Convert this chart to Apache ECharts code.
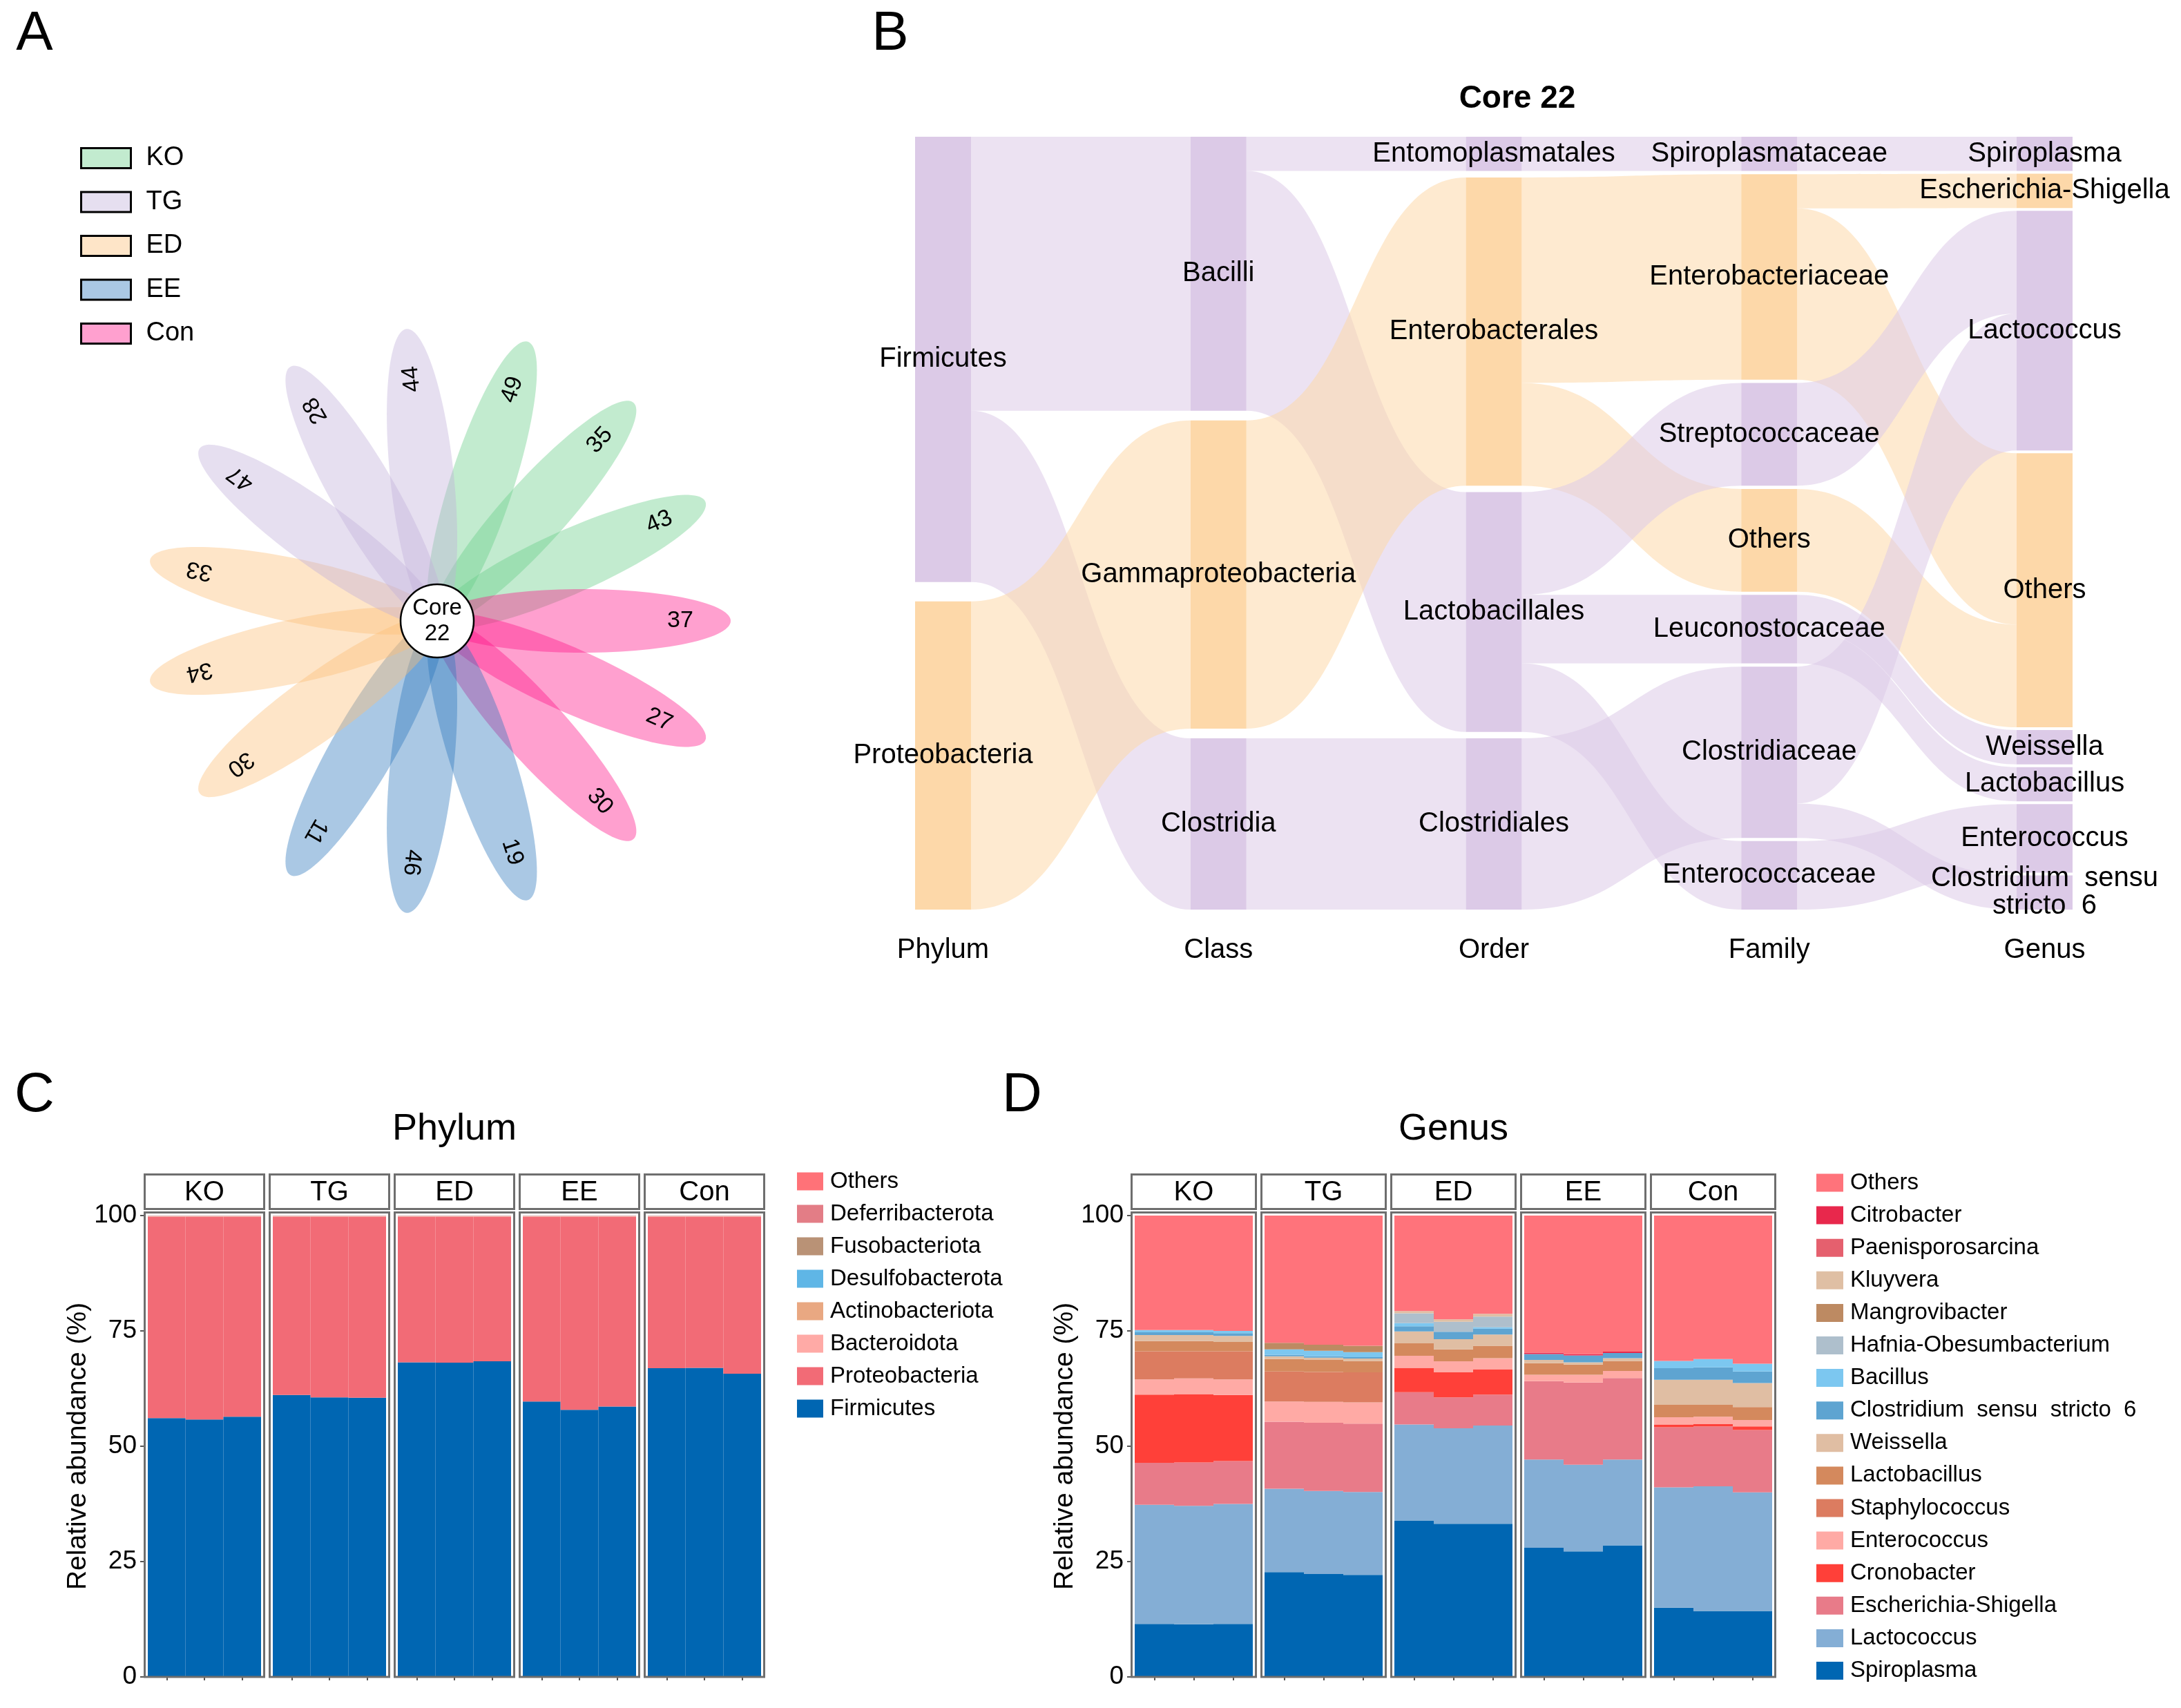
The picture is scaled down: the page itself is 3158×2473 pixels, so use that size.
<!DOCTYPE html>
<html>
<head>
<meta charset="utf-8">
<script src="https://cdn.jsdelivr.net/npm/echarts@6/dist/echarts.min.js"></script>
<style>html,body{margin:0;padding:0;background:#fff;}#main{width:3158px;height:2473px;}</style>
</head>
<body>
<div id="main"></div>
<script>
// ---------------- DATA ----------------
// Panel A: flower (petals listed clockwise, starting with KO "49")
const coreCount = 22;
const flowerOrder = ['KO', 'Con', 'EE', 'ED', 'TG'];
const legendGroups = ['KO', 'TG', 'ED', 'EE', 'Con'];
const petalKO = [49, 35, 43];
const petalCon = [37, 27, 30];
const petalEE = [19, 46, 11];
const petalED = [30, 34, 33];
const petalTG = [47, 28, 44];

// Panel B: sankey of the 22 core taxa
const phylumNodes = ['Firmicutes', 'Proteobacteria'];
const classNodes = ['Bacilli', 'Gammaproteobacteria', 'Clostridia'];
const orderNodes = ['Entomoplasmatales', 'Enterobacterales', 'Lactobacillales', 'Clostridiales'];
const familyNodes = ['Spiroplasmataceae', 'Enterobacteriaceae', 'Streptococcaceae', 'Others (family)', 'Leuconostocaceae', 'Clostridiaceae', 'Enterococcaceae'];
const genusNodes = ['Spiroplasma', 'Escherichia-Shigella', 'Lactococcus', 'Others (genus)', 'Weissella', 'Lactobacillus', 'Enterococcus', 'Clostridium  sensu  stricto  6'];
const proteoLineage = ['Proteobacteria', 'Gammaproteobacteria', 'Enterobacterales', 'Enterobacteriaceae', 'Others (family)', 'Escherichia-Shigella', 'Others (genus)'];
const linkSource = ['Firmicutes', 'Firmicutes', 'Proteobacteria',
  'Bacilli', 'Bacilli', 'Gammaproteobacteria', 'Clostridia',
  'Entomoplasmatales', 'Enterobacterales', 'Enterobacterales', 'Lactobacillales', 'Lactobacillales', 'Lactobacillales', 'Clostridiales',
  'Spiroplasmataceae', 'Enterobacteriaceae', 'Enterobacteriaceae', 'Streptococcaceae', 'Others (family)', 'Leuconostocaceae', 'Leuconostocaceae', 'Clostridiaceae', 'Clostridiaceae', 'Enterococcaceae'];
const linkTarget = ['Bacilli', 'Clostridia', 'Gammaproteobacteria',
  'Entomoplasmatales', 'Lactobacillales', 'Enterobacterales', 'Clostridiales',
  'Spiroplasmataceae', 'Enterobacteriaceae', 'Others (family)', 'Streptococcaceae', 'Leuconostocaceae', 'Enterococcaceae', 'Clostridiaceae',
  'Spiroplasma', 'Escherichia-Shigella', 'Others (genus)', 'Lactococcus', 'Others (genus)', 'Weissella', 'Lactobacillus', 'Lactococcus', 'Clostridium  sensu  stricto  6', 'Enterococcus'];
const linkValue = [8, 5, 9,
  1, 7, 9, 5,
  1, 6, 3, 3, 2, 2, 5,
  1, 1, 5, 3, 3, 1, 1, 4, 1, 2];
const rankLabels = ['Phylum', 'Class', 'Order', 'Family', 'Genus'];

// Panels C/D: 5 groups x 3 samples (KO1-3, TG1-3, ED1-3, EE1-3, Con1-3)
const groupNames = ['KO', 'TG', 'ED', 'EE', 'Con'];
const sampleIds = ['S1', 'S2', 'S3'];

// Phylum relative abundance (%)
const phyFirmicutes      = [56.1, 55.8, 56.4, 61.1, 60.6, 60.5, 68.2, 68.1, 68.4, 59.7, 57.9, 58.6, 66.9, 67.0, 65.7];
const phyProteobacteria  = [43.6, 43.9, 43.3, 38.6, 39.1, 39.2, 31.5, 31.6, 31.3, 40.0, 41.8, 41.1, 32.8, 32.7, 34.0];
const phyBacteroidota    = [0.10, 0.10, 0.10, 0.10, 0.10, 0.10, 0.10, 0.10, 0.10, 0.10, 0.10, 0.10, 0.10, 0.10, 0.10];
const phyActinobacteriota= [0.05, 0.05, 0.05, 0.05, 0.05, 0.05, 0.05, 0.05, 0.05, 0.05, 0.05, 0.05, 0.05, 0.05, 0.05];
const phyDesulfobacterota= [0.05, 0.05, 0.05, 0.05, 0.05, 0.05, 0.05, 0.05, 0.05, 0.05, 0.05, 0.05, 0.05, 0.05, 0.05];
const phyFusobacteriota  = [0.02, 0.02, 0.02, 0.02, 0.02, 0.02, 0.02, 0.02, 0.02, 0.02, 0.02, 0.02, 0.02, 0.02, 0.02];
const phyDeferribacterota= [0.03, 0.03, 0.03, 0.03, 0.03, 0.03, 0.03, 0.03, 0.03, 0.03, 0.03, 0.03, 0.03, 0.03, 0.03];
const phyOthers          = [0.05, 0.05, 0.05, 0.05, 0.05, 0.05, 0.05, 0.05, 0.05, 0.05, 0.05, 0.05, 0.05, 0.05, 0.05];
const phylumNames = ['Firmicutes', 'Proteobacteria', 'Bacteroidota', 'Actinobacteriota', 'Desulfobacterota', 'Fusobacteriota', 'Deferribacterota', 'Others'];

// Genus relative abundance (%)
const genSpiroplasma   = [11.5, 11.4, 11.5, 22.7, 22.3, 22.1, 33.9, 33.2, 33.2, 28.0, 27.2, 28.5, 15.0, 14.3, 14.3];
const genLactococcus   = [25.8, 25.7, 26.0, 18.1, 18.0, 18.0, 20.8, 20.7, 21.3, 19.1, 18.8, 18.6, 26.1, 27.0, 25.7];
const genEscherichia   = [9.1, 9.4, 9.3, 14.5, 14.8, 14.8, 7.0, 6.7, 6.7, 17.0, 17.8, 17.7, 13.0, 13.0, 13.5];
const genCronobacter   = [14.8, 14.8, 14.3, 0, 0, 0, 5.3, 5.4, 5.5, 0, 0, 0, 0.6, 0.5, 0.8];
const genEnterococcus  = [3.3, 3.4, 3.4, 4.4, 4.5, 4.6, 2.6, 2.4, 2.4, 1.4, 1.7, 1.5, 1.6, 1.6, 1.4];
const genStaphylococcus= [6.1, 5.9, 6.1, 6.5, 6.5, 6.5, 0, 0, 0, 0, 0, 0, 0, 0, 0];
const genLactobacillus = [2.2, 2.2, 2.0, 2.7, 2.6, 2.5, 2.7, 2.6, 2.7, 2.5, 2.2, 2.2, 2.7, 2.6, 2.8];
const genWeissella     = [1.3, 1.3, 1.3, 0.6, 0.5, 0.5, 2.6, 2.2, 2.4, 0.7, 0.5, 0.6, 5.4, 5.4, 5.2];
const genClostridium   = [0.6, 0.6, 0.6, 0.3, 0.3, 0.3, 1.1, 1.6, 1.3, 1.3, 1.5, 1.1, 2.5, 2.7, 2.5];
const genBacillus      = [0.5, 0.5, 0.5, 1.2, 1.2, 1.1, 0.7, 0, 0.3, 0, 0, 0, 1.6, 1.8, 1.7];
const genHafnia        = [0, 0, 0, 0, 0, 0, 2.1, 2.2, 2.3, 0, 0, 0, 0, 0, 0];
const genMangrovibacter= [0, 0, 0, 1.4, 1.3, 1.4, 0, 0, 0, 0, 0, 0, 0, 0, 0];
const genKluyvera      = [0, 0, 0, 0, 0, 0, 0.5, 0.5, 0.6, 0, 0, 0, 0, 0, 0];
const genPaenisporosarcina = [0, 0, 0, 0, 0, 0, 0, 0, 0, 0, 0, 0, 0, 0, 0];
const genCitrobacter   = [0, 0, 0, 0, 0, 0, 0, 0, 0, 0.3, 0.3, 0.3, 0, 0, 0];
const genOthers        = [24.8, 24.8, 25.0, 27.6, 28.0, 28.2, 20.7, 22.5, 21.3, 29.7, 30.0, 29.5, 31.5, 31.1, 32.1];
const genusNames = ['Spiroplasma', 'Lactococcus', 'Escherichia-Shigella', 'Cronobacter', 'Enterococcus', 'Staphylococcus', 'Lactobacillus', 'Weissella', 'Clostridium  sensu  stricto  6', 'Bacillus', 'Hafnia-Obesumbacterium', 'Mangrovibacter', 'Kluyvera', 'Paenisporosarcina', 'Citrobacter', 'Others'];

// ---------------- STYLE / LAYOUT ----------------
const W = 3158, H = 2473;
const FONT = '"Liberation Sans", Arial, Helvetica, sans-serif';
const petalCounts = { KO: petalKO, Con: petalCon, EE: petalEE, ED: petalED, TG: petalTG };
const petalFill = { KO: 'rgba(102,204,136,0.4)', TG: 'rgba(192,175,217,0.4)', ED: 'rgba(252,190,117,0.4)', EE: 'rgba(42,117,187,0.4)', Con: 'rgba(255,17,135,0.4)' };
const petalLegend = { KO: '#c2ebcf', TG: '#e6dff0', ED: '#fee5c8', EE: '#aac8e4', Con: '#ffa0cf' };
const phylumValues = [phyFirmicutes, phyProteobacteria, phyBacteroidota, phyActinobacteriota, phyDesulfobacterota, phyFusobacteriota, phyDeferribacterota, phyOthers];
const phylumColors = ['#0066b2', '#f26b76', '#ffaaa6', '#e9a882', '#5fb6e6', '#b99276', '#e37d86', '#ff7278'];
const genusValues = [genSpiroplasma, genLactococcus, genEscherichia, genCronobacter, genEnterococcus, genStaphylococcus, genLactobacillus, genWeissella, genClostridium, genBacillus, genHafnia, genMangrovibacter, genKluyvera, genPaenisporosarcina, genCitrobacter, genOthers];
const genusColors = ['#0066b2', '#84aed5', '#e87b89', '#ff4039', '#ffaaa5', '#dc7c60', '#d4895d', '#e0bea3', '#5ea4d1', '#7cc7f0', '#aebfcc', '#bd8a62', '#dfbfa4', '#e5606e', '#e8284c', '#ff737b'];

const grids = [], xAxes = [], yAxes = [], series = [], graphics = [];

// ---- Panel A ----
const FC = { cx: 633, cy: 899, R: 440 };
const PET_START = 18, PET_STEP = 24;
const PET_C = 210 / FC.R, PET_A = 215 / FC.R, PET_B = 46 / FC.R, LAB_R = 352 / FC.R;
grids.push({ left: FC.cx - FC.R, top: FC.cy - FC.R, width: 2 * FC.R, height: 2 * FC.R, show: false });
xAxes.push({ type: 'value', gridIndex: 0, min: -1, max: 1, show: false });
yAxes.push({ type: 'value', gridIndex: 0, min: -1, max: 1, show: false });

function petalRenderer(fill) {
  return function (params, api) {
    const deg = api.value(0);
    const num = api.value(1);
    const th = deg * Math.PI / 180;
    const ux = Math.sin(th), uy = Math.cos(th);
    const px = Math.cos(th), py = -Math.sin(th);
    const pts = [];
    for (let k = 0; k < 120; k++) {
      const t = k / 120 * 2 * Math.PI;
      const a = PET_C + PET_A * Math.cos(t);
      const b = PET_B * Math.sin(t);
      pts.push(api.coord([ux * a + px * b, uy * a + py * b]));
    }
    const lp = api.coord([ux * LAB_R, uy * LAB_R]);
    return {
      type: 'group',
      children: [
        { type: 'polygon', shape: { points: pts }, style: { fill: fill, stroke: null } },
        { type: 'text', x: lp[0], y: lp[1], rotation: -(deg - 90) * Math.PI / 180, z2: 100,
          style: { text: String(num), fontSize: 34, fontFamily: FONT, fill: '#000', align: 'center', verticalAlign: 'middle' } }
      ]
    };
  };
}
flowerOrder.forEach(function (g, gi) {
  series.push({
    type: 'custom', name: g, coordinateSystem: 'cartesian2d', xAxisIndex: 0, yAxisIndex: 0,
    data: petalCounts[g].map(function (c, k) { return [PET_START + PET_STEP * (gi * 3 + k), c]; }),
    renderItem: petalRenderer(petalFill[g]), silent: true, z: 2
  });
});
series.push({
  type: 'scatter', name: 'core', xAxisIndex: 0, yAxisIndex: 0, data: [[0, 0]], symbol: 'circle', symbolSize: 106,
  itemStyle: { color: '#fff', borderColor: '#000', borderWidth: 2.5, opacity: 1 },
  label: { show: true, position: 'inside', formatter: 'Core\n' + coreCount, fontSize: 33, lineHeight: 37, color: '#000', fontFamily: FONT },
  silent: true, z: 5
});

// ---- Panel B: sankey ----
const SK = { left: 1325, top: 198, right: 3001, bottom: 1317, nodeWidth: 81, gap: 4 };
const columns = [phylumNodes, classNodes, orderNodes, familyNodes, genusNodes];
const nodeVal = {};
function addVal(n, v, key) { nodeVal[n] = nodeVal[n] || { i: 0, o: 0 }; nodeVal[n][key] += v; }
linkValue.forEach(function (v, i) { addVal(linkSource[i], v, 'o'); addVal(linkTarget[i], v, 'i'); });
function valueOf(n) { return Math.max(nodeVal[n].i, nodeVal[n].o); }
const sankH = SK.bottom - SK.top;
let ky = Infinity;
columns.forEach(function (col) {
  const tot = col.reduce(function (s, n) { return s + valueOf(n); }, 0);
  ky = Math.min(ky, (sankH - (col.length - 1) * SK.gap) / tot);
});
const lavender = '#dccae7', peach = '#fdd8a9';
const sankeyNodes = [];
columns.forEach(function (col) {
  const tot = col.reduce(function (s, n) { return s + valueOf(n); }, 0);
  const colGap = col.length > 1 ? (sankH - tot * ky) / (col.length - 1) : 0;
  let y = 0;
  col.forEach(function (n) {
    sankeyNodes.push({ name: n, localY: y / sankH, itemStyle: { color: proteoLineage.indexOf(n) >= 0 ? peach : lavender } });
    y += valueOf(n) * ky + colGap;
  });
});
const sankeyLinks = linkValue.map(function (v, i) { return { source: linkSource[i], target: linkTarget[i], value: v }; });
function sankeyLabel(p) {
  if (p.name === 'Others (family)' || p.name === 'Others (genus)') return 'Others';
  if (p.name === 'Clostridium  sensu  stricto  6') return 'Clostridium  sensu\nstricto  6';
  return p.name;
}
series.push({
  type: 'sankey', name: 'core-sankey', left: SK.left, top: SK.top, right: W - SK.right, bottom: H - SK.bottom,
  nodeWidth: SK.nodeWidth, nodeGap: SK.gap, layoutIterations: 0, nodeAlign: 'justify', draggable: false, silent: true,
  emphasis: { disabled: true },
  data: sankeyNodes, links: sankeyLinks,
  itemStyle: { borderWidth: 0 },
  label: { show: true, position: 'inside', fontSize: 40, lineHeight: 40, color: '#000', fontFamily: FONT, formatter: sankeyLabel },
  lineStyle: { color: 'source', opacity: 0.55, curveness: 0.5 }
});
const colStep = (SK.right - SK.left - SK.nodeWidth) / 4;
rankLabels.forEach(function (r, i) {
  graphics.push({ type: 'text', x: SK.left + SK.nodeWidth / 2 + i * colStep, y: 1376, z: 10,
    style: { text: r, fontSize: 40, fontFamily: FONT, fill: '#000', align: 'center', verticalAlign: 'middle' } });
});
graphics.push({ type: 'text', x: 2197, y: 143, z: 10,
  style: { text: 'Core ' + coreCount, fontSize: 46, fontWeight: 'bold', fontFamily: FONT, fill: '#000', align: 'center', verticalAlign: 'middle' } });

// ---- Panels C & D ----
const BORDER = '#6e6e6e';
function addFacets(tag, cfg, names, values, colors) {
  for (let f = 0; f < groupNames.length; f++) {
    const fx = cfg.x0 + f * cfg.step;
    const gi = grids.length;
    grids.push({ left: fx + 6, top: cfg.top, width: cfg.w - 12, height: cfg.bottom - cfg.top, show: false });
    xAxes.push({ type: 'category', gridIndex: gi, data: sampleIds, position: 'bottom',
      axisLine: { show: false }, axisTick: { show: true, alignWithLabel: true, length: 5, lineStyle: { color: '#555', width: 2 } },
      axisLabel: { show: false }, splitLine: { show: false } });
    if (f === 0) {
      yAxes.push({ type: 'value', gridIndex: gi, min: 0, max: 100, interval: 25, offset: 6,
        axisLine: { show: false }, axisTick: { show: true, length: 5, lineStyle: { color: '#555', width: 2 } },
        axisLabel: { fontSize: 37, color: '#000', fontFamily: FONT, margin: 10 }, splitLine: { show: false },
        name: 'Relative abundance (%)', nameLocation: 'middle', nameGap: 66,
        nameTextStyle: { fontSize: 39, color: '#000', fontFamily: FONT } });
    } else {
      yAxes.push({ type: 'value', gridIndex: gi, min: 0, max: 100, show: false });
    }
    names.forEach(function (nm, j) {
      series.push({ type: 'bar', name: nm, xAxisIndex: gi, yAxisIndex: gi, stack: tag + f,
        data: values[j].slice(f * 3, f * 3 + 3), barWidth: '100%', itemStyle: { color: colors[j] }, silent: true });
    });
    graphics.push({ type: 'rect', z: 20, shape: { x: fx + 1.5, y: cfg.panelTop + 1.5, width: cfg.w - 3, height: cfg.bottom - cfg.panelTop - 1.5 },
      style: { fill: null, stroke: BORDER, lineWidth: 3 } });
    graphics.push({ type: 'rect', z: 20, shape: { x: fx + 1.5, y: cfg.stripTop + 1.5, width: cfg.w - 3, height: cfg.stripBot - cfg.stripTop - 3 },
      style: { fill: '#fff', stroke: BORDER, lineWidth: 3 } });
    graphics.push({ type: 'text', z: 21, x: fx + cfg.w / 2, y: (cfg.stripTop + cfg.stripBot) / 2 + 1,
      style: { text: groupNames[f], fontSize: 40, fontFamily: FONT, fill: '#000', align: 'center', verticalAlign: 'middle' } });
  }
  graphics.push({ type: 'text', z: 10, x: cfg.x0 + (4 * cfg.step + cfg.w) / 2, y: 1635,
    style: { text: cfg.title, fontSize: 54, fontFamily: FONT, fill: '#000', align: 'center', verticalAlign: 'middle' } });
}
const CC = { x0: 208, step: 181, w: 176, top: 1760, bottom: 2428, panelTop: 1754, stripTop: 1699, stripBot: 1752, title: 'Phylum' };
const DC = { x0: 1637, step: 188, w: 183, top: 1760, bottom: 2428, panelTop: 1754, stripTop: 1699, stripBot: 1752, title: 'Genus' };
addFacets('C', CC, phylumNames, phylumValues, phylumColors);
addFacets('D', DC, genusNames, genusValues, genusColors);

// Panel letters
[['A', 50, 50], ['B', 1289, 50], ['C', 50, 1587], ['D', 1480, 1587]].forEach(function (l) {
  graphics.push({ type: 'text', z: 10, x: l[1], y: l[2], style: { text: l[0], fontSize: 80, fontFamily: FONT, fill: '#000', align: 'center', verticalAlign: 'middle' } });
});

// Legends
const legends = [
  { orient: 'vertical', left: 116, top: 210, height: 400, itemWidth: 72, itemHeight: 29, itemGap: 25.5, icon: 'rect', padding: 0, selectedMode: false,
    textStyle: { fontSize: 38, fontFamily: FONT, color: '#000', padding: [0, 0, 0, 17] },
    data: legendGroups.map(function (g) { return { name: g, icon: 'rect', itemStyle: { color: petalLegend[g], borderColor: '#000', borderWidth: 3 } }; }) },
  { orient: 'vertical', left: 1154, top: 1694, height: 770, itemWidth: 38, itemHeight: 26, itemGap: 14, icon: 'rect', padding: 0, selectedMode: false,
    textStyle: { fontSize: 33, fontFamily: FONT, color: '#000', padding: [0, 0, 0, 5] },
    data: phylumNames.slice().reverse().map(function (n) { return { name: n, itemStyle: { color: phylumColors[phylumNames.indexOf(n)], borderWidth: 0 } }; }) },
  { orient: 'vertical', left: 2630, top: 1696, height: 775, itemWidth: 39, itemHeight: 26, itemGap: 14.1, icon: 'rect', padding: 0, selectedMode: false,
    textStyle: { fontSize: 33, fontFamily: FONT, color: '#000', padding: [0, 0, 0, 5] },
    data: genusNames.slice().reverse().map(function (n) { return { name: n, itemStyle: { color: genusColors[genusNames.indexOf(n)], borderWidth: 0 } }; }) }
];

const chart = echarts.init(document.getElementById('main'), null, { renderer: 'canvas', width: W, height: H });
chart.setOption({
  animation: false,
  backgroundColor: '#fff',
  textStyle: { fontFamily: FONT },
  grid: grids, xAxis: xAxes, yAxis: yAxes,
  legend: legends,
  series: series,
  graphic: { elements: graphics }
});
</script>
</body>
</html>
